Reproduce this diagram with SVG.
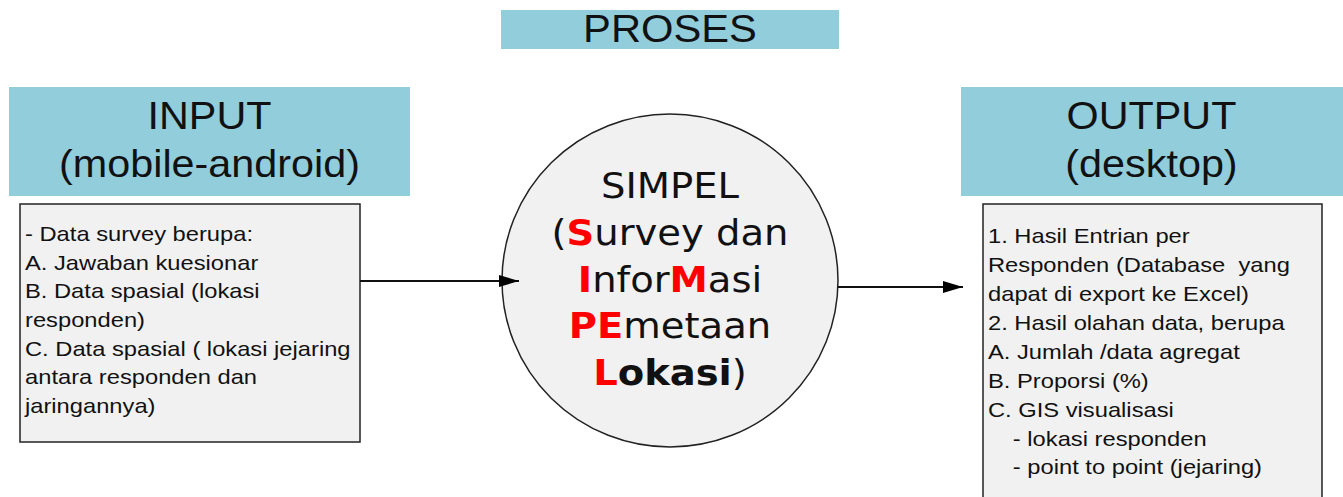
<svg xmlns="http://www.w3.org/2000/svg" width="1343" height="497" viewBox="0 0 1343 497">
<defs>
<style>
.hdr{fill:#92cddc}
.title{font-family:"Liberation Sans",Arial,sans-serif;font-size:39px;fill:#111;text-anchor:middle}
.box{fill:#f1f1f1;stroke:#222;stroke-width:1.5}
.body{font-family:"Liberation Sans",Arial,sans-serif;font-size:21px;fill:#111;white-space:pre}
.circ{font-family:"DejaVu Sans",Verdana,sans-serif;font-size:35px;fill:#111;text-anchor:middle}
.r{fill:#ff0000;font-weight:bold}
.b{font-weight:bold}
.conn{stroke:#111;stroke-width:2;fill:none}
</style>
<marker id="arr" markerWidth="20" markerHeight="14" refX="20" refY="7" orient="auto" markerUnits="userSpaceOnUse">
<path d="M0,1 L20,7 L0,13 Z" fill="#000"/>
</marker>
</defs>
<rect width="1343" height="497" fill="#fff"/>

<g id="proses">
<rect class="hdr" x="501" y="10" width="338" height="39"/>
<text class="title" transform="translate(670,42) scale(1.07,1)">PROSES</text>
</g>

<g id="input-header">
<rect class="hdr" x="9" y="87" width="401" height="109"/>
<text class="title" transform="translate(209.5,129) scale(1.06,1)"><tspan x="0" y="0">INPUT</tspan><tspan x="0" y="48">(mobile-android)</tspan></text>
</g>

<g id="input-box">
<rect class="box" x="20" y="204" width="340" height="238"/>
<text class="body" transform="translate(25,0) scale(1.13,1)"><tspan x="0" y="241">- Data survey berupa:</tspan><tspan x="0" y="270">A. Jawaban kuesionar</tspan><tspan x="0" y="298">B. Data spasial (lokasi</tspan><tspan x="0" y="327">responden)</tspan><tspan x="0" y="356">C. Data spasial ( lokasi jejaring</tspan><tspan x="0" y="384">antara responden dan</tspan><tspan x="0" y="413">jaringannya)</tspan></text>
</g>

<g id="simpel">
<ellipse cx="670" cy="280.5" rx="168" ry="166.5" fill="#f1f1f1" stroke="#222" stroke-width="1.5"/>
<text class="circ" transform="translate(670,0) scale(1.1,1)"><tspan x="0" y="198">SIMPEL</tspan><tspan x="0" y="245">(<tspan class="r">S</tspan>urvey dan</tspan><tspan x="0" y="292"><tspan class="r">I</tspan>nfor<tspan class="r">M</tspan>asi</tspan><tspan x="0" y="338"><tspan class="r">PE</tspan>metaan</tspan><tspan x="0" y="385"><tspan class="r">L</tspan><tspan class="b">okasi</tspan>)</tspan></text>
</g>

<g id="output-header">
<rect class="hdr" x="961" y="87" width="382" height="109"/>
<text class="title" transform="translate(1151.5,129) scale(1.06,1)"><tspan x="0" y="0">OUTPUT</tspan><tspan x="0" y="48">(desktop)</tspan></text>
</g>

<g id="output-box">
<rect class="box" x="983" y="204" width="339" height="310"/>
<text class="body" transform="translate(988,0) scale(1.13,1)" xml:space="preserve"><tspan x="0" y="243">1. Hasil Entrian per</tspan><tspan x="0" y="272">Responden (Database  yang</tspan><tspan x="0" y="301">dapat di export ke Excel)</tspan><tspan x="0" y="330">2. Hasil olahan data, berupa</tspan><tspan x="0" y="359">A. Jumlah /data agregat</tspan><tspan x="0" y="388">B. Proporsi (%)</tspan><tspan x="0" y="417">C. GIS visualisasi</tspan><tspan x="22" y="446">- lokasi responden</tspan><tspan x="22" y="474">- point to point (jejaring)</tspan></text>
</g>

<g id="connectors">
<line class="conn" x1="360" y1="281" x2="519" y2="281" marker-end="url(#arr)"/>
<line class="conn" x1="838" y1="287" x2="963" y2="287" marker-end="url(#arr)"/>
</g>
</svg>
